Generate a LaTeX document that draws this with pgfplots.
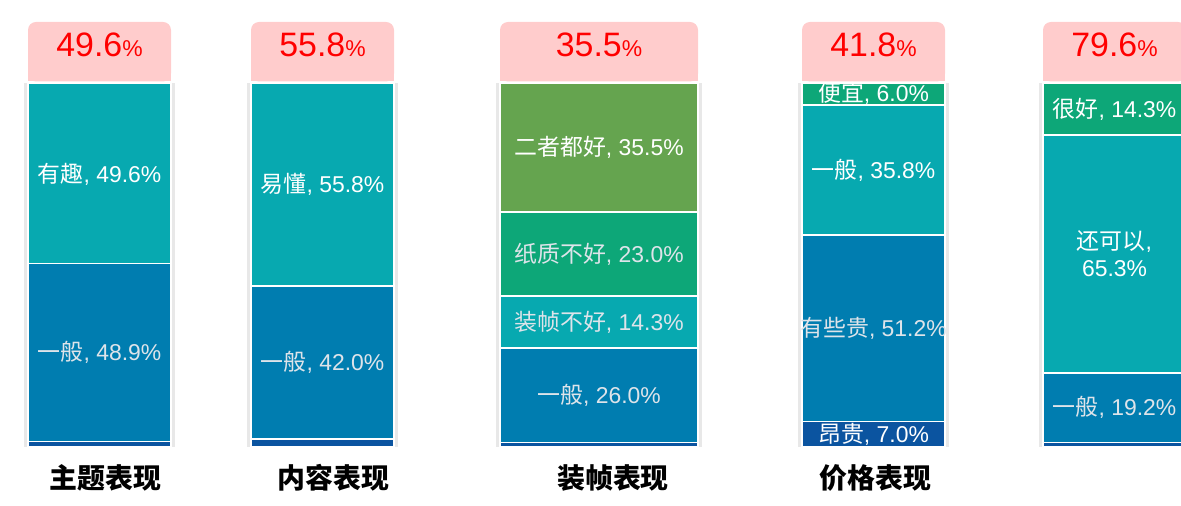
\documentclass[border=0pt]{standalone}
\usepackage{pgfplots}
\pgfplotsset{compat=1.18}
\usetikzlibrary{calc}
\usepackage{fontspec}
\setmainfont{Liberation Sans}
\newfontfamily\cjk{Noto Sans CJK SC}

\definecolor{cteal}{RGB}{7,169,176}
\definecolor{cblue}{RGB}{0,125,176}
\definecolor{cdark}{RGB}{11,84,160}
\definecolor{cgreen}{RGB}{13,167,120}
\definecolor{colive}{RGB}{101,164,79}
\definecolor{cpink}{RGB}{255,204,204}
\definecolor{lgray}{RGB}{222,228,234}

% segment label text: Chinese part + value
\newcommand{\seg}[2]{{\cjk #1}, #2\%}

% pink box with the headline value and the faint side shadow, drawn after axis #1
\newcommand{\topbox}[2]{%
  \draw[black!9, line width=3bp] ([xshift=-2.5bp]#1.south west) -- ([xshift=-2.5bp]#1.north west);
  \draw[black!9, line width=3bp] ([xshift=2.5bp]#1.south east) -- ([xshift=2.5bp]#1.north east);
  \fill[cpink, rounded corners=8bp] ([yshift=1.5bp]#1.north west) rectangle ([yshift=61bp]#1.north east);
  \fill[cpink] ([yshift=1.5bp]#1.north west) rectangle ([yshift=30bp]#1.north east);
  \node[anchor=base, text=red, inner sep=0pt] at ([yshift=26bp]#1.north)
    {\fontsize{34}{34}\selectfont #2\fontsize{23}{23}\selectfont\%};
}
% label centred at fraction #2 of the height of axis #1
\newcommand{\seglab}[4]{%
  \node[#3] at ($(#1.south)!#2!(#1.north)$) {#4};
}
\newcommand{\catlabel}[3]{%
  \node[font={\cjk\bfseries\fontsize{28}{28}\selectfont}, text=black] at ([xshift=#2,yshift=-31bp]#1.south) {#3};
}

\pgfplotsset{
  colbar/.style={
    scale only axis, anchor=origin, height=364bp,
    xmin=0, xmax=1, ymin=0, ymax=100, enlargelimits=false,
    ybar stacked, bar width=1, hide axis,
    every axis plot/.append style={draw=white, line width=1.6bp},
  },
}
\tikzset{
  lab/.style={font=\fontsize{23}{27}\selectfont, text=white, align=center, inner sep=0pt},
  labg/.style={lab, text=lgray},
}

\begin{document}
\begin{tikzpicture}
\useasboundingbox (0,0) rectangle (1181bp,506bp);

% 主题表现
\begin{axis}[colbar, name=a1, at={(28bp,59bp)}, width=143bp]
\addplot[fill=cdark] coordinates {(0.5,1.5)};
\addplot[fill=cblue] coordinates {(0.5,48.9)};
\addplot[fill=cteal] coordinates {(0.5,49.6)};
\end{axis}
\topbox{a1}{49.6}
\seglab{a1}{0.2595}{labg}{\seg{一般}{48.9}}
\seglab{a1}{0.748}{lab}{\seg{有趣}{49.6}}
\catlabel{a1}{6bp}{主题表现}

% 内容表现
\begin{axis}[colbar, name=a2, at={(251bp,59bp)}, width=143bp]
\addplot[fill=cdark] coordinates {(0.5,2.2)};
\addplot[fill=cblue] coordinates {(0.5,42.0)};
\addplot[fill=cteal] coordinates {(0.5,55.8)};
\end{axis}
\topbox{a2}{55.8}
\seglab{a2}{0.232}{labg}{\seg{一般}{42.0}}
\seglab{a2}{0.721}{lab}{\seg{易懂}{55.8}}
\catlabel{a2}{11bp}{内容表现}

% 装帧表现
\begin{axis}[colbar, name=a3, at={(500bp,59bp)}, width=198bp]
\addplot[fill=cdark] coordinates {(0.5,1.2)};
\addplot[fill=cblue] coordinates {(0.5,26.0)};
\addplot[fill=cteal] coordinates {(0.5,14.3)};
\addplot[fill=cgreen] coordinates {(0.5,23.0)};
\addplot[fill=colive] coordinates {(0.5,35.5)};
\end{axis}
\topbox{a3}{35.5}
\seglab{a3}{0.142}{labg}{\seg{一般}{26.0}}
\seglab{a3}{0.3435}{labg}{\seg{装帧不好}{14.3}}
\seglab{a3}{0.53}{labg}{\seg{纸质不好}{23.0}}
\seglab{a3}{0.8225}{lab}{\seg{二者都好}{35.5}}
\catlabel{a3}{14bp}{装帧表现}

% 价格表现
\begin{axis}[colbar, name=a4, at={(802bp,59bp)}, width=143bp]
\addplot[fill=cdark] coordinates {(0.5,7.0)};
\addplot[fill=cblue] coordinates {(0.5,51.2)};
\addplot[fill=cteal] coordinates {(0.5,35.8)};
\addplot[fill=cgreen] coordinates {(0.5,6.0)};
\end{axis}
\topbox{a4}{41.8}
\seglab{a4}{0.035}{lab}{\seg{昂贵}{7.0}}
\seglab{a4}{0.326}{labg}{\seg{有些贵}{51.2}}
\seglab{a4}{0.761}{lab}{\seg{一般}{35.8}}
\seglab{a4}{0.972}{lab}{\seg{便宜}{6.0}}
\catlabel{a4}{2bp}{价格表现}

% fifth column, cut by the right edge
\begin{axis}[colbar, name=a5, at={(1043bp,59bp)}, width=143bp]
\addplot[fill=cdark] coordinates {(0.5,1.2)};
\addplot[fill=cblue] coordinates {(0.5,19.2)};
\addplot[fill=cteal] coordinates {(0.5,65.3)};
\addplot[fill=cgreen] coordinates {(0.5,14.3)};
\end{axis}
\topbox{a5}{79.6}
\seglab{a5}{0.108}{labg}{\seg{一般}{19.2}}
\seglab{a5}{0.5305}{lab}{{\cjk 还可以}, \\ 65.3\%}
\seglab{a5}{0.9285}{lab}{\seg{很好}{14.3}}
\end{tikzpicture}
\end{document}
